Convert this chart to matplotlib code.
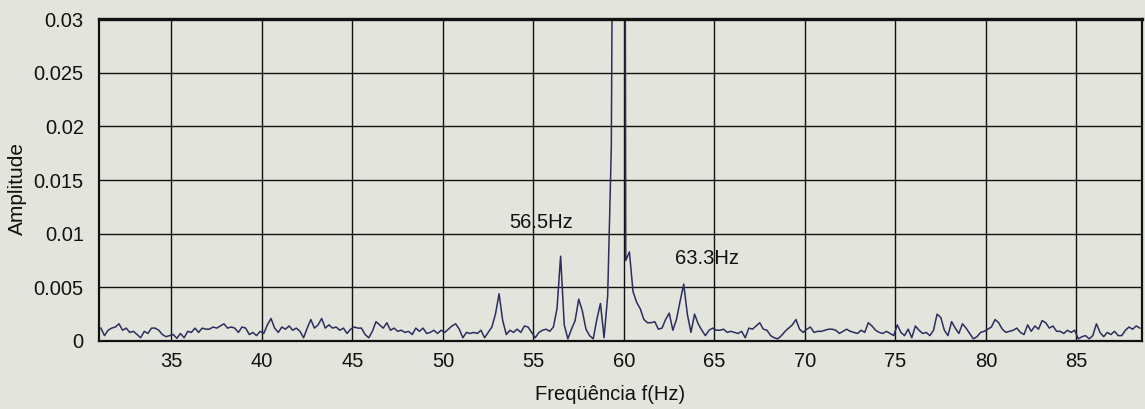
import numpy as np
import matplotlib
matplotlib.use('Agg')
import matplotlib.pyplot as plt

# amplitude spectrum, 0.2 Hz bins starting at 31.1 Hz
amp_31_40 = [0.0012, 0.0005, 0.0010, 0.0012, 0.0013, 0.0016, 0.0010, 0.0012, 0.0008, 0.0009,
             0.0006, 0.0003, 0.0009, 0.0007, 0.0012, 0.0012, 0.0010, 0.0006, 0.0004, 0.0005,
             0.0006, 0.00025, 0.0007, 0.0003, 0.0009, 0.0008, 0.0012, 0.0008, 0.0012, 0.0011,
             0.0011, 0.0013, 0.0012, 0.0014, 0.0016, 0.0012, 0.0013, 0.0012, 0.0008, 0.0013,
             0.0012, 0.0006, 0.0008, 0.0005, 0.0009]
amp_40_50 = [0.0007, 0.0015, 0.0021, 0.0012, 0.0008, 0.0013, 0.0011, 0.0014, 0.0010, 0.0012,
             0.0009, 0.0003, 0.0012, 0.0020, 0.0012, 0.0015, 0.0021, 0.0012, 0.0015, 0.0012,
             0.0013, 0.0010, 0.0012, 0.0007, 0.0011, 0.0013, 0.0012, 0.0012, 0.0006, 0.0003,
             0.0009, 0.0018, 0.0015, 0.0012, 0.0017, 0.0010, 0.0012, 0.0009, 0.0010, 0.0008,
             0.0009, 0.0006, 0.0012, 0.0009, 0.0012, 0.0007, 0.0008, 0.0010, 0.0007, 0.0010]
amp_50_60 = [0.0008, 0.0011, 0.0014, 0.0016, 0.0011, 0.0003, 0.0008, 0.0007, 0.0008, 0.0007,
             0.0010, 0.0003, 0.0008, 0.0013, 0.0025, 0.0044, 0.0019, 0.0006, 0.0010, 0.0008,
             0.0011, 0.0008, 0.0014, 0.0013, 0.0008, 0.0003, 0.0008, 0.0010, 0.0011, 0.0009,
             0.0013, 0.0030, 0.0079, 0.0015, 0.0002, 0.0011, 0.0019, 0.0039, 0.0028, 0.0011,
             0.0005, 0.0002, 0.0020, 0.0035, 0.0003, 0.0042, 0.018, 0.08, 0.25, 0.2]
amp_60_65 = [0.0075, 0.0083, 0.0046, 0.0036, 0.0030, 0.0020, 0.0017, 0.0017, 0.0018, 0.0011,
             0.0012, 0.0020, 0.0026, 0.0010, 0.0020, 0.0037, 0.0053, 0.0025, 0.0008, 0.0025,
             0.0016, 0.0010, 0.0005, 0.0010, 0.0012, 0.0010]
amp_65_73 = [0.0010, 0.0011, 0.0008, 0.0009, 0.0008, 0.0007, 0.0009, 0.0003, 0.0012, 0.0011,
             0.0014, 0.0017, 0.0011, 0.0010, 0.0005, 0.0003, 0.0002, 0.0005, 0.0009, 0.0012,
             0.0015, 0.0020, 0.0011, 0.0008, 0.0011, 0.0013, 0.0008, 0.0009, 0.0009, 0.0010,
             0.0011, 0.0011, 0.0010, 0.0007, 0.0009, 0.0011, 0.0009, 0.0008, 0.0007, 0.0010,
             0.0008]
amp_73_81 = [0.0017, 0.0014, 0.0010, 0.0008, 0.0007, 0.0009, 0.0007, 0.0005, 0.0015, 0.0008,
             0.0005, 0.0011, 0.0003, 0.0014, 0.0010, 0.0007, 0.0008, 0.0005, 0.0010, 0.0025,
             0.0022, 0.0010, 0.0005, 0.0018, 0.0012, 0.0007, 0.0016, 0.0012, 0.0007, 0.0002,
             0.0004, 0.0008, 0.0009, 0.0011, 0.0013, 0.0020, 0.0017, 0.0011, 0.0008, 0.0009]
amp_81_89 = [0.0010, 0.0012, 0.0008, 0.0006, 0.0015, 0.0009, 0.0014, 0.0011, 0.0019, 0.0017,
             0.0012, 0.0014, 0.0009, 0.0009, 0.0007, 0.0010, 0.0008, 0.0010, 0.0002, 0.0004,
             0.0005, 0.0002, 0.0005, 0.0016, 0.0008, 0.0004, 0.0008, 0.0006, 0.0009, 0.0005,
             0.0005, 0.0010, 0.0013, 0.0011, 0.0014, 0.0012]

amp = np.array(amp_31_40 + amp_40_50 + amp_50_60 + amp_60_65 + amp_65_73 + amp_73_81 + amp_81_89)
freq = np.round(31.1 + 0.2 * np.arange(len(amp)), 1)

xticks = [35, 40, 45, 50, 55, 60, 65, 70, 75, 80, 85]
yticks = [0, 0.005, 0.01, 0.015, 0.02, 0.025, 0.03]
ytick_labels = ['0', '0.005', '0.01', '0.015', '0.02', '0.025', '0.03']
notes = [('56.5Hz', 53.65, 0.0110), ('63.3Hz', 62.8, 0.0077)]

paper = '#e3e5dd'
plt.rcParams['font.family'] = ['Liberation Sans', 'DejaVu Sans']

fig = plt.figure(figsize=(11.45, 4.09), dpi=100, facecolor=paper)
ax = fig.add_axes([0.0865, 0.1663, 0.9109, 0.7872], facecolor=paper)

ax.plot(freq, amp, color='#2b2d5e', lw=1.1)

ax.set_xlim(31.0, 88.62)
ax.set_ylim(0, 0.03)
ax.set_xticks(xticks)
ax.set_yticks(yticks)
ax.set_yticklabels(ytick_labels)
ax.tick_params(length=0, labelsize=14.5, colors='#111111')
ax.tick_params(axis='y', pad=11)
ax.tick_params(axis='x', pad=8)
ax.grid(True, color='#111111', lw=1.0)

for s in ax.spines.values():
    s.set_linewidth(1.6)
    s.set_color('#111111')
ax.spines['top'].set_linewidth(2.4)

for txt, fx, fy in notes:
    ax.text(fx, fy, txt, fontsize=14.5, va='center', ha='left', color='#111111')

ax.set_xlabel('Freqüência f(Hz)', fontsize=14.5, color='#111111', va='center')
ax.xaxis.set_label_coords(0.49, -0.165)
ax.set_ylabel('Amplitude', fontsize=15, color='#111111', va='center', ha='center')
ax.yaxis.set_label_coords(-0.0785, 0.475)

fig.savefig('out.png', dpi=100, facecolor=paper)
